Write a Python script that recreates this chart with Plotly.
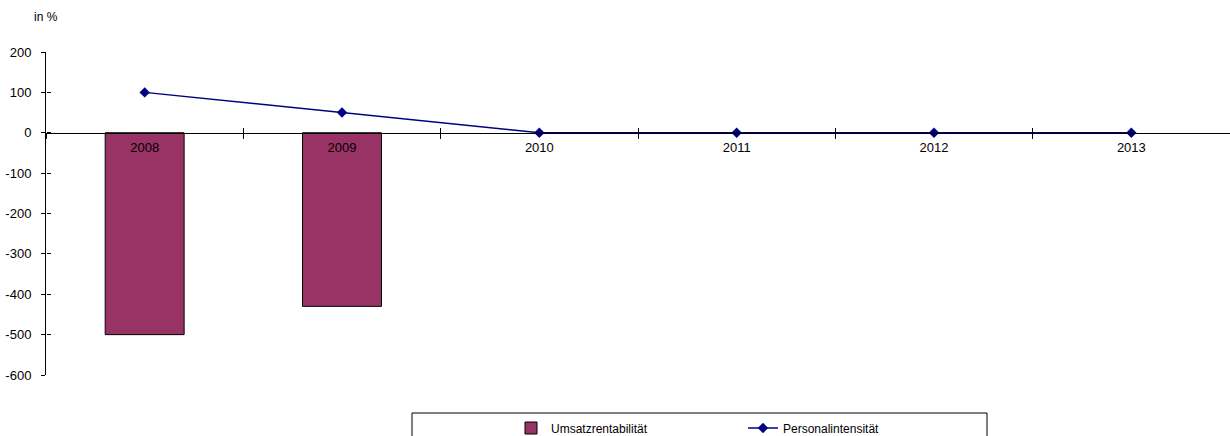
import plotly.graph_objects as go

years = ["2008", "2009", "2010", "2011", "2012", "2013"]
umsatzrentabilitaet = [-500, -430, 0, 0, 0, 0]
personalintensitaet = [100, 50, 0, 0, 0, 0]
y_ticks = [200, 100, 0, -100, -200, -300, -400, -500, -600]
y_ticktext = [str(v) for v in y_ticks]  # plain hyphen for negatives

FONT = "Liberation Sans, Arial, sans-serif"
W, H = 1230, 436
M_L, M_R, M_T, M_B = 46, 0, 52, 61
PLOT_W = W - M_L - M_R
PLOT_H = H - M_T - M_B
Y_MIN, Y_MAX = -600, 200
# paper fraction where the value 0 sits (category axis crosses there)
zero_pos = (0 - Y_MIN) / (Y_MAX - Y_MIN)


def px_x(px):
    return (px - M_L) / PLOT_W


def px_y(px):
    return (H - M_B - px) / PLOT_H


# no outline on empty (zero-height) bars
bar_outline = [1 if v != 0 else 0 for v in umsatzrentabilitaet]

fig = go.Figure()
fig.add_trace(go.Bar(
    x=years, y=umsatzrentabilitaet, name="Umsatzrentabilität",
    marker=dict(color="#993366", line=dict(color="#000000", width=bar_outline)),
    width=0.4,
))
fig.add_trace(go.Scatter(
    x=years, y=personalintensitaet, name="Personalintensität",
    mode="lines+markers",
    line=dict(color="#000080", width=1.4),
    marker=dict(symbol="diamond", size=8, color="#000080"),
))
# empty trace carrying the overlay axes that draw the inner half of the ticks
fig.add_trace(go.Scatter(x=years, y=[None] * len(years), xaxis="x2",
                         yaxis="y2", showlegend=False, hoverinfo="skip"))

cat_axis = dict(type="category", range=[-0.5, 5.5], showgrid=False,
                zeroline=False, anchor="free", position=zero_pos,
                tickson="boundaries", tickcolor="#000000", ticklen=5)
val_axis = dict(range=[Y_MIN, Y_MAX], tickvals=y_ticks, ticktext=y_ticktext,
                showgrid=False, zeroline=False, tickcolor="#000000",
                ticklen=4)

fig.update_layout(
    width=W, height=H,
    margin=dict(l=M_L, r=M_R, t=M_T, b=M_B, autoexpand=False),
    paper_bgcolor="white", plot_bgcolor="white",
    font=dict(family=FONT, size=12, color="#000000"),
    showlegend=True,
    legend=dict(orientation="h", xref="container", yref="container",
                x=511 / W, xanchor="left",
                y=(H - 428) / H, yanchor="middle",
                bgcolor="rgba(0,0,0,0)", borderwidth=0,
                font=dict(size=12, color="#000000"), itemwidth=30,
                entrywidth=187, traceorder="normal"),
    xaxis=dict(**cat_axis, showline=True, linecolor="#000000", linewidth=1,
               ticks="outside", ticklabelstandoff=3,
               tickfont=dict(size=13, color="#000000")),
    xaxis2=dict(**cat_axis, overlaying="x", showline=False,
                ticks="inside", showticklabels=False),
    yaxis=dict(**val_axis, showline=True, linecolor="#000000", linewidth=1,
               ticks="outside", ticklabelstandoff=7,
               tickfont=dict(size=13, color="#000000")),
    yaxis2=dict(**val_axis, overlaying="y", anchor="free", position=0,
                side="left", showline=False, ticks="inside",
                showticklabels=False),
)

fig.add_annotation(text="in %", xref="paper", yref="paper",
                   x=px_x(32), y=px_y(17), xanchor="left", yanchor="middle",
                   showarrow=False, font=dict(size=12, color="#000000"))

# legend frame
fig.add_shape(type="rect", xref="paper", yref="paper",
              x0=px_x(412), x1=px_x(987), y0=px_y(450), y1=px_y(413),
              line=dict(color="#000000", width=1), fillcolor="rgba(0,0,0,0)")

fig.write_html("out.html")
